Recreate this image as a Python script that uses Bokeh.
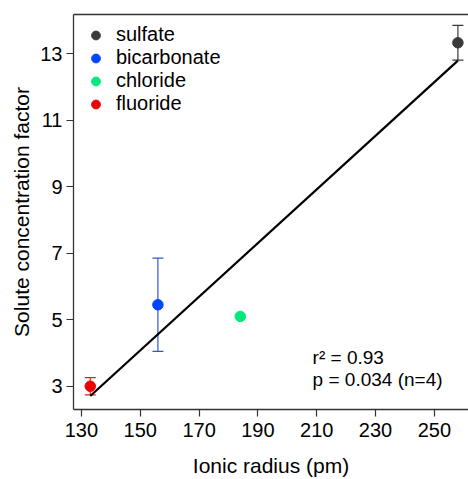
import numpy as np
from bokeh.plotting import figure
from bokeh.models import (ColumnDataSource, Whisker, TeeHead, Legend, LegendItem,
                          LinearAxis, Label, FixedTicker, Range1d)
from bokeh.embed import file_html
from bokeh.resources import INLINE

# ---- data ----
anions = ["sulfate", "bicarbonate", "chloride", "fluoride"]
ionic_radius = [258, 156, 184, 133]
conc_factor = [13.33, 5.45, 5.10, 3.00]
conc_err = [0.52, 1.40, 0.0, 0.26]
colors = ["#3a3a3a", "#0044ff", "#00ea7c", "#ee0000"]
err_colors = ["#3a3a3a", "#3358c8", "#00ea7c", "#e02020"]
x_ticks = [130, 150, 170, 190, 210, 230, 250]
y_ticks = [3, 5, 7, 9, 11, 13]
r2_text = "r² = 0.93"
p_text = "p = 0.034 (n=4)"

FONT = "Liberation Sans"
AX = "#333333"

p = figure(width=468, height=479, output_backend="svg", toolbar_location=None,
           x_range=Range1d(127.3, 261.6), y_range=Range1d(2.30, 14.18),
           min_border_left=73, min_border_right=0, min_border_top=14, min_border_bottom=69)
p.outline_line_color = None
p.grid.visible = False

for ax in (p.xaxis[0], p.yaxis[0]):
    ax.axis_line_color = AX
    ax.axis_line_width = 1.3
    ax.major_tick_line_color = AX
    ax.major_tick_line_width = 1.2
    ax.major_tick_in = 0
    ax.major_tick_out = 7
    ax.minor_tick_line_color = None
    ax.major_label_text_font = FONT
    ax.major_label_text_font_size = "20px"
    ax.major_label_text_color = "black"
    ax.axis_label_text_font = FONT
    ax.axis_label_text_font_size = "21px"
    ax.axis_label_text_font_style = "normal"
    ax.axis_label_text_color = "black"

p.xaxis.ticker = FixedTicker(ticks=x_ticks)
p.yaxis.ticker = FixedTicker(ticks=y_ticks)
p.xaxis.axis_label = "Ionic radius (pm)"
p.yaxis.axis_label = "Solute concentration factor"
p.xaxis.major_label_standoff = 6
p.yaxis.major_label_standoff = 4
p.xaxis.axis_label_standoff = 14
p.yaxis.axis_label_standoff = 4

top = LinearAxis(axis_line_color=AX, axis_line_width=1.3, major_tick_line_color=None,
                 minor_tick_line_color=None, major_label_text_font_size="0px",
                 major_label_text_color=None)
p.add_layout(top, "above")

# regression line (least squares fit on data)
xs = np.array(ionic_radius, dtype=float)
ys = np.array(conc_factor, dtype=float)
slope, intercept = np.polyfit(xs, ys, 1)
lx = np.array([xs.min(), xs.max()])
p.line(lx, slope * lx + intercept, line_color="black", line_width=2.2)

# error bars
for i in range(len(anions)):
    if conc_err[i] > 0:
        src = ColumnDataSource(dict(x=[ionic_radius[i]],
                                    lo=[conc_factor[i] - conc_err[i]],
                                    hi=[conc_factor[i] + conc_err[i]]))
        w = Whisker(source=src, base="x", lower="lo", upper="hi", dimension="height",
                    line_color=err_colors[i], line_width=1.2,
                    upper_head=TeeHead(size=11, line_color=err_colors[i], line_width=1.2),
                    lower_head=TeeHead(size=11, line_color=err_colors[i], line_width=1.2))
        p.add_layout(w)

items = []
for i, name in enumerate(anions):
    r = p.scatter([ionic_radius[i]], [conc_factor[i]], size=10.5, fill_color=colors[i],
                  line_color=colors[i])
    items.append(LegendItem(label=name, renderers=[r]))

legend = Legend(items=items, location="top_left", margin=9, padding=10,
                glyph_width=27, glyph_height=22, label_height=22, spacing=-1,
                label_standoff=7, label_text_font=FONT, label_text_font_size="20px",
                label_text_color="black", border_line_color=None,
                background_fill_alpha=0)
p.add_layout(legend)

p.add_layout(Label(x=208.6, y=3.86, text=r2_text, text_font=FONT, text_font_size="19px",
                   text_baseline="middle", text_color="black"))
p.add_layout(Label(x=208.6, y=3.20, text=p_text, text_font=FONT, text_font_size="19px",
                   text_baseline="middle", text_color="black"))

open("out.html", "w").write(file_html(p, INLINE))
